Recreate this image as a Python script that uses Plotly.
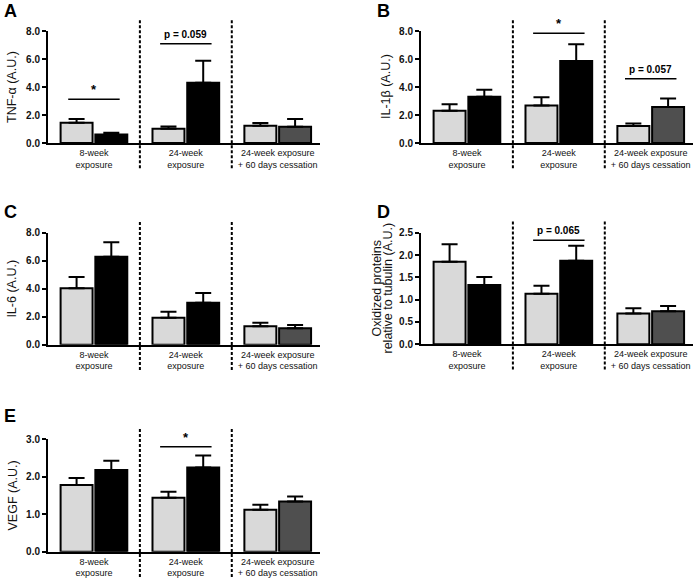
import plotly.graph_objects as go

# ---------------- data ----------------
groups = ["8-week<br>exposure", "24-week<br>exposure", "24-week exposure<br>+ 60 days cessation"]
group_pos = [0, 1, 2]

tnf_ctrl = [1.45, 1.02, 1.24]
tnf_ctrl_err = [0.27, 0.15, 0.19]
tnf_exp = [0.60, 4.31, 1.16]
tnf_exp_err = [0.14, 1.57, 0.55]

il1b_ctrl = [2.31, 2.67, 1.21]
il1b_ctrl_err = [0.45, 0.60, 0.19]
il1b_exp = [3.31, 5.86, 2.57]
il1b_exp_err = [0.50, 1.20, 0.60]

il6_ctrl = [4.02, 1.92, 1.31]
il6_ctrl_err = [0.80, 0.43, 0.26]
il6_exp = [6.27, 2.99, 1.17]
il6_exp_err = [1.04, 0.69, 0.23]

ox_ctrl = [1.85, 1.13, 0.69]
ox_ctrl_err = [0.39, 0.18, 0.12]
ox_exp = [1.33, 1.87, 0.74]
ox_exp_err = [0.18, 0.34, 0.12]

vegf_ctrl = [1.78, 1.44, 1.12]
vegf_ctrl_err = [0.19, 0.16, 0.13]
vegf_exp = [2.18, 2.25, 1.34]
vegf_exp_err = [0.25, 0.32, 0.13]

# significance brackets: (group index, height, label)
sig_tnf = [(0, 3.12, "*"), (1, 7.09, "p = 0.059")]
sig_il1b = [(1, 7.84, "*"), (2, 4.59, "p = 0.057")]
sig_il6 = []
sig_ox = [(1, 2.33, "p = 0.065")]
sig_vegf = [(1, 2.80, "*")]

# ---------------- style ----------------
W, H = 697, 582
FONT = "Liberation Sans, Arial, Helvetica, sans-serif"
LIGHT = "#d9d9d9"
EXP_COLORS = ["#000000", "#000000", "#4f4f4f"]
XR = [-0.5, 2.46]

panels = [
    dict(letter="A", ytitle=["TNF-α (A.U.)"], c=tnf_ctrl, ce=tnf_ctrl_err, e=tnf_exp, ee=tnf_exp_err,
         yr=[0, 8], dtick=2, fmt=".1f", sig=sig_tnf,
         px=(48, 320), py=(31, 143), letter_xy=(2, 11), tshift=[-36]),
    dict(letter="B", ytitle=["IL-1β (A.U.)"], c=il1b_ctrl, ce=il1b_ctrl_err, e=il1b_exp, ee=il1b_exp_err,
         yr=[0, 8], dtick=2, fmt=".1f", sig=sig_il1b,
         px=(421, 693), py=(31, 143), letter_xy=(375, 11), tshift=[-35]),
    dict(letter="C", ytitle=["IL-6 (A.U.)"], c=il6_ctrl, ce=il6_ctrl_err, e=il6_exp, ee=il6_exp_err,
         yr=[0, 8], dtick=2, fmt=".1f", sig=sig_il6,
         px=(48, 320), py=(232.5, 344.7), letter_xy=(2, 211.5), tshift=[-36]),
    dict(letter="D", ytitle=["Oxidized proteins", "relative to tubulin (A.U.)"], c=ox_ctrl, ce=ox_ctrl_err,
         e=ox_exp, ee=ox_exp_err, yr=[0, 2.5], dtick=0.5, fmt=".1f", sig=sig_ox,
         px=(421, 693), py=(232.7, 344.3), letter_xy=(375, 211.5), tshift=[-45, -34]),
    dict(letter="E", ytitle=["VEGF (A.U.)"], c=vegf_ctrl, ce=vegf_ctrl_err, e=vegf_exp, ee=vegf_exp_err,
         yr=[0, 3], dtick=1, fmt=".1f", sig=sig_vegf,
         px=(48, 320), py=(439.3, 551.7), letter_xy=(2, 416), tshift=[-36]),
]

fig = go.Figure()
layout = dict(
    template="none",
    width=W, height=H,
    margin=dict(l=0, r=0, t=0, b=0, autoexpand=False),
    paper_bgcolor="white", plot_bgcolor="white",
    barmode="group", bargap=0.244, bargroupgap=0.08,
    showlegend=False,
    font=dict(family=FONT, color="black"),
)
shapes = []
annotations = []

for i, p in enumerate(panels, start=1):
    s = "" if i == 1 else str(i)
    xa, ya = "x" + s, "y" + s
    fig.add_trace(go.Bar(
        x=group_pos, y=p["c"], xaxis=xa, yaxis=ya,
        marker=dict(color=LIGHT, line=dict(color="black", width=2)),
        error_y=dict(type="data", array=p["ce"], arrayminus=[0] * len(p["ce"]), symmetric=False,
                     color="black", thickness=2, width=8),
        hoverinfo="skip",
    ))
    fig.add_trace(go.Bar(
        x=group_pos, y=p["e"], xaxis=xa, yaxis=ya,
        marker=dict(color=EXP_COLORS, line=dict(color="black", width=2)),
        error_y=dict(type="data", array=p["ee"], arrayminus=[0] * len(p["ee"]), symmetric=False,
                     color="black", thickness=2, width=8),
        hoverinfo="skip",
    ))
    x0, x1 = p["px"]
    ytop, ybot = p["py"]
    layout["xaxis" + s] = dict(
        domain=[x0 / W, x1 / W], anchor=ya, range=XR, automargin=False,
        tickmode="array", tickvals=group_pos, ticktext=groups,
        ticks="", showline=True, linewidth=2, linecolor="black",
        showgrid=False, zeroline=False, fixedrange=True,
        tickfont=dict(family=FONT, size=9, color="#111"),
    )
    layout["yaxis" + s] = dict(
        domain=[1 - ybot / H, 1 - ytop / H], anchor=xa, range=p["yr"], automargin=False,
        tickmode="linear", tick0=0, dtick=p["dtick"], tickformat=p["fmt"],
        ticks="outside", ticklen=4, tickwidth=2, tickcolor="black",
        showline=True, linewidth=2, linecolor="black",
        showgrid=False, zeroline=False, fixedrange=True,
        tickfont=dict(family=FONT, size=10, color="#111", weight="bold"),
    )
    # dotted separators between groups
    for b in [0.5, 1.5]:
        xd = (b - XR[0]) / (XR[1] - XR[0])
        shapes.append(dict(type="line", xref=xa + " domain", yref=ya + " domain",
                           x0=xd, x1=xd, y0=-0.225, y1=1.1,
                           line=dict(color="black", width=2, dash="3px,2px")))
    # significance brackets
    for g, yv, lab in p["sig"]:
        shapes.append(dict(type="line", xref=xa, yref=ya, x0=g - 0.28, x1=g + 0.28, y0=yv, y1=yv,
                           line=dict(color="black", width=1.5)))
        big = lab == "*"
        annotations.append(dict(x=g, y=yv, xref=xa, yref=ya, text=lab, showarrow=False,
                                xanchor="center", yanchor="bottom", yshift=0 if big else 2,
                                font=dict(family=FONT, size=13 if big else 10, weight="bold", color="black")))
    # y title(s)
    for line, sh in zip(p["ytitle"], p["tshift"]):
        annotations.append(dict(x=0, y=0.5, xref=xa + " domain", yref=ya + " domain", text=line,
                                showarrow=False, textangle=-90, xanchor="center", yanchor="middle",
                                xshift=sh, font=dict(family=FONT, size=12.5, color="#111")))
    # panel letter
    lx, ly = p["letter_xy"]
    annotations.append(dict(x=lx / W, y=1 - ly / H, xref="paper", yref="paper", text=p["letter"],
                            showarrow=False, xanchor="left", yanchor="middle",
                            font=dict(family=FONT, size=18, weight="bold", color="black")))

layout["shapes"] = shapes
layout["annotations"] = annotations
fig.update_layout(**layout)
fig.write_html(
    "out.html",
    config={"displayModeBar": False},
    post_script="document.body.style.margin='0px';document.body.style.padding='0px';",
)
